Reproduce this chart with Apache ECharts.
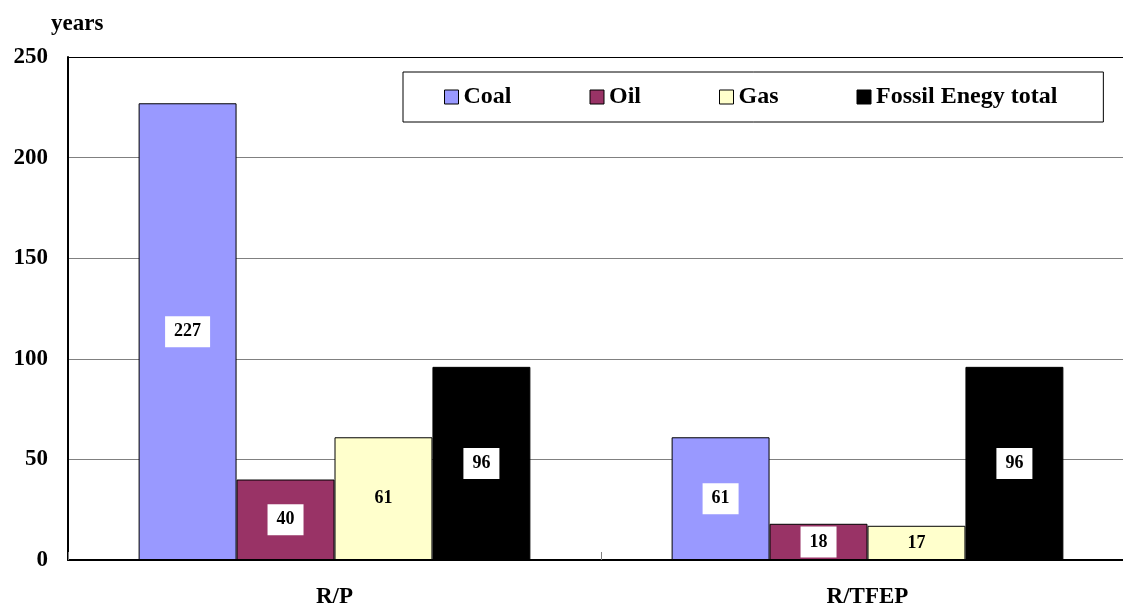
<!DOCTYPE html>
<html>
<head>
<meta charset="utf-8">
<style>
  html, body { margin: 0; padding: 0; background: #fff; }
  #chart { width: 1123px; height: 607px; }
</style>
<script src="https://cdn.jsdelivr.net/npm/echarts@6/dist/echarts.min.js"></script>
</head>
<body>
<div id="chart"></div>
<script>
// Reserve-to-production ratios (years)
const categories = ['R/P', 'R/TFEP'];
const seriesNames = ['Coal', 'Oil', 'Gas', 'Fossil Enegy total'];
const coal = [227, 61];
const oil = [40, 18];
const gas = [61, 17];
const fossilTotal = [96, 96];
const yTicks = [0, 50, 100, 150, 200, 250];

const FONT = '"Liberation Serif", "Times New Roman", serif';
const colors = ['#9999FF', '#993366', '#FFFFCC', '#000000'];
const values = [coal, oil, gas, fossilTotal];

const chart = echarts.init(document.getElementById('chart'), null, { renderer: 'canvas' });

const series = values.map((data, i) => ({
  name: seriesNames[i],
  type: 'bar',
  data: data,
  barGap: '0%',
  barCategoryGap: '26.5%',
  itemStyle: { color: colors[i], borderColor: '#000', borderWidth: 1 },
  label: {
    show: true,
    position: 'inside',
    color: '#000',
    fontFamily: FONT,
    fontWeight: 'bold',
    fontSize: 18,
    backgroundColor: i === 2 ? 'transparent' : '#fff',
    padding: [7, 9, 6, 9]
  },
  emphasis: { disabled: true }
}));

chart.setOption({
  animation: false,
  backgroundColor: '#fff',
  title: {
    text: 'years',
    left: 46,
    top: 8,
    textStyle: { fontFamily: FONT, fontWeight: 'bold', fontSize: 23, color: '#000' }
  },
  legend: {
    data: seriesNames,
    left: 403,
    top: 72,
    padding: [13, 46, 13, 41],
    itemGap: 78,
    itemWidth: 14,
    itemHeight: 14,
    icon: 'rect',
    borderColor: '#000',
    borderWidth: 1,
    backgroundColor: '#fff',
    itemStyle: { borderColor: '#000', borderWidth: 1 },
    textStyle: { fontFamily: FONT, fontWeight: 'bold', fontSize: 24, color: '#000' },
    selectedMode: false
  },
  // plot area runs slightly past the right edge of the canvas
  grid: {
    left: 68, top: 57, height: 503, width: 1066,
    containLabel: false,
    outerBoundsMode: 'none'
  },
  xAxis: {
    type: 'category',
    data: categories,
    axisLine: { show: true, lineStyle: { color: '#000', width: 2 } },
    axisTick: { show: true, inside: true, length: 8, lineStyle: { color: '#808080' } },
    axisLabel: { fontFamily: FONT, fontWeight: 'bold', fontSize: 23, color: '#000', margin: 26 },
    splitLine: { show: false }
  },
  yAxis: {
    type: 'value',
    min: yTicks[0],
    max: yTicks[yTicks.length - 1],
    interval: yTicks[1] - yTicks[0],
    axisLine: { show: true, lineStyle: { color: '#000', width: 2 } },
    axisTick: { show: false },
    axisLabel: { fontFamily: FONT, fontWeight: 'bold', fontSize: 23, color: '#000', margin: 20 },
    splitLine: {
      show: true,
      lineStyle: { color: ['#808080', '#808080', '#808080', '#808080', '#808080', '#000'], width: 1 }
    }
  },
  series: series
});
</script>
</body>
</html>
